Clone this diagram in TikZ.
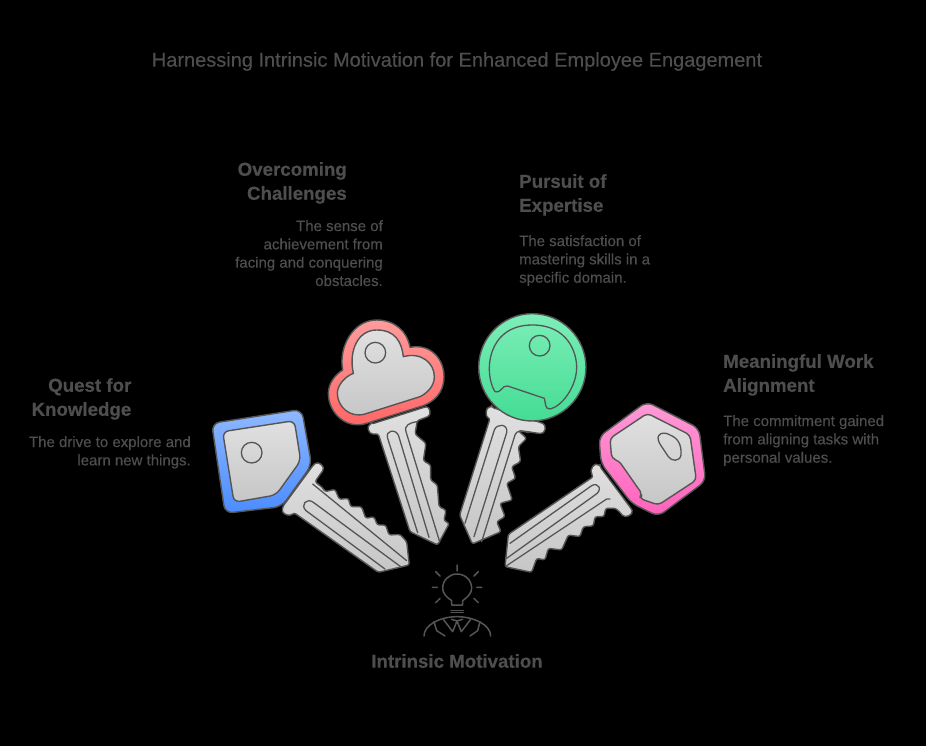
\documentclass[tikz,border=0pt]{standalone}
\usepackage{fontspec}
\setmainfont[FakeBold=0.35,BoldFeatures={FakeBold=0.5}]{Liberation Sans}
\definecolor{ink}{HTML}{4E4E4E}
\definecolor{outl}{HTML}{555555}
\definecolor{E1}{HTML}{E0E0E0}\definecolor{C7}{HTML}{C6C6C6}
\definecolor{HB1}{HTML}{8FB8FF}\definecolor{HB2}{HTML}{4A8CFF}
\definecolor{HR1}{HTML}{FF9C9C}\definecolor{HR2}{HTML}{FF6464}
\definecolor{HG1}{HTML}{7DEEB8}\definecolor{HG2}{HTML}{44DC94}
\definecolor{HP1}{HTML}{FF9AD6}\definecolor{HP2}{HTML}{FF62BC}
\tikzset{
  zoomed/.style={x=0.33333pt,y=-0.33333pt},
  steel/.style={draw=outl,line width=1.4pt,top color=E1,bottom color=C7,rounded corners=2.2pt,line join=round},
  groove/.style={draw=outl,line width=1.3pt,line cap=round,line join=round},
  bluehead/.style={draw=outl,line width=1.4pt,top color=HB1,bottom color=HB2,line join=round},
  redhead/.style={draw=outl,line width=1.4pt,top color=HR1,bottom color=HR2,line join=round},
  greenhead/.style={draw=outl,line width=1.4pt,top color=HG1,bottom color=HG2,line join=round},
  pinkhead/.style={draw=outl,line width=1.4pt,top color=HP1,bottom color=HP2,line join=round},
  face/.style={draw=outl,line width=1.4pt,top color=E1,bottom color=C7,line join=round},
  icon/.style={draw=outl,line width=1.5pt,line cap=round,line join=round},
  titletext/.style={text=ink,font=\fontsize{20}{24}\selectfont,inner sep=0pt},
  head/.style={text=ink,font=\bfseries\fontsize{18.7}{24}\selectfont,inner sep=0pt},
  body/.style={text=ink,font=\fontsize{15}{18.3}\selectfont,inner sep=0pt}
}
\begin{document}
\begin{tikzpicture}[x=1pt,y=-1pt]
\useasboundingbox (0,0) rectangle (926,746);
\fill[black] (0,0) rectangle (926,746);

\node[titletext] (title) at (457,61.5) {Harnessing Intrinsic Motivation for Enhanced Employee Engagement};

\node[head,align=right,anchor=north east] (h1) at (131.5,378) {Quest for\\Knowledge};
\node[body,align=right,anchor=north east] (b1) at (191,436) {The drive to explore and\\learn new things.};
\node[head,align=right,anchor=north east] (h2) at (347,162) {Overcoming\\Challenges};
\node[body,align=right,anchor=north east] (b2) at (383,220) {The sense of\\achievement from\\facing and conquering\\obstacles.};
\node[head,align=left,anchor=north west] (h3) at (519,174) {Pursuit of\\Expertise};
\node[body,align=left,anchor=north west] (b3) at (519,235) {The satisfaction of\\mastering skills in a\\specific domain.};
\node[head,align=left,anchor=north west] (h4) at (723,354) {Meaningful Work\\Alignment};
\node[body,align=left,anchor=north west] (b4) at (723,415) {The commitment gained\\from aligning tasks with\\personal values.};
\node[head] (centre) at (457,661) {Intrinsic Motivation};

% blue key
\begin{scope}[shift={(200,390)},zoomed]
\path[steel] (340,225) .. controls (355,212) and (378,230) .. (364,248) -- (345,275) -- (370,295) -- (375,305) -- (405,298) -- (418,328) -- (445,325) -- (452,350) -- (485,350) -- (497,385) -- (522,380) -- (532,405) -- (557,405) -- (567,435) -- (600,433) -- (620,455) -- (628,525) -- (535,547) -- (282,368) .. controls (272,378) and (245,378) .. (248,350) -- cycle;
\draw[groove] (338,282) -- (620,512);
\draw[groove] (555,537) -- (318,362) .. controls (300,345) and (320,322) .. (340,337) -- (602,530);
\path[bluehead,rounded corners=8pt] (35,100) -- (305,58) -- (335,225) -- (245,350) -- (75,370) -- cycle;
\path[face,rounded corners=6pt] (68,125) -- (283,92) -- (302,212) -- (228,315) -- (102,337) -- cycle;
\draw[groove] (155,188) circle[radius=31];
\end{scope}

% red key
\begin{scope}[shift={(320,310)},zoomed]
\path[steel] (155,342) -- (312,292) .. controls (330,288) and (335,315) .. (318,322) -- (292,332) -- (285,372) -- (318,400) -- (310,452) -- (332,465) -- (332,510) -- (352,525) -- (357,590) -- (378,600) -- (372,632) -- (388,640) -- (353,705) -- (270,665) -- (175,372) -- (165,372) .. controls (145,372) and (140,348) .. (155,342) -- cycle;
\draw[groove] (293,668) -- (203,385) .. controls (195,360) and (228,355) .. (236,378) -- (327,682);
\draw[groove] (358,692) -- (258,365) .. controls (252,345) and (270,338) .. (292,335);
\draw[redhead] (68,180) .. controls (55,110) and (100,30) .. (170,30) .. controls (225,30) and (262,65) .. (270,112) .. controls (330,100) and (372,145) .. (372,200) .. controls (372,250) and (340,275) .. (310,287) -- (140,340) .. controls (80,360) and (25,310) .. (25,250) .. controls (25,220) and (45,195) .. (68,180) -- cycle;
\draw[face] (100,190) .. controls (85,120) and (115,60) .. (170,60) .. controls (225,60) and (245,95) .. (250,140) .. controls (305,125) and (343,160) .. (343,200) .. controls (343,230) and (320,250) .. (300,260) -- (135,312) .. controls (90,325) and (52,290) .. (52,250) .. controls (52,225) and (75,200) .. (100,190) -- cycle;
\draw[groove] (166,128) circle[radius=31];
\end{scope}

% green key
\begin{scope}[shift={(455,310)},zoomed]
\path[steel] (110,292) -- (258,338) .. controls (275,345) and (272,372) .. (250,370) -- (218,365) -- (190,362) -- (215,385) -- (190,410) -- (197,455) -- (170,470) -- (182,505) -- (155,520) -- (172,570) -- (135,580) -- (150,620) -- (125,635) -- (138,665) -- (52,702) -- (14,615) -- (105,325) .. controls (90,320) and (92,290) .. (110,292) -- cycle;
\draw[groove] (30,640) -- (118,360) .. controls (125,340) and (160,340) .. (155,368) -- (57,680);
\draw[groove] (80,695) -- (180,375) .. controls (185,360) and (200,362) .. (222,368);
\draw[greenhead] (232,172) circle[radius=161];
\draw[groove] (120,245) .. controls (85,190) and (95,45) .. (232,45) .. controls (340,45) and (365,130) .. (365,172) .. controls (365,230) and (320,290) .. (285,297) .. controls (270,298) and (272,280) .. (268,265) -- (158,228) .. controls (140,225) and (140,250) .. (120,245) -- cycle;
\draw[groove] (254,107) circle[radius=31];
\end{scope}

% pink key
\begin{scope}[shift={(495,395)},zoomed]
\path[steel] (315,215) -- (408,340) .. controls (418,358) and (390,372) .. (378,355) -- (362,340) -- (332,340) -- (327,365) -- (300,365) -- (295,393) -- (265,395) -- (255,425) -- (220,420) -- (200,465) -- (160,460) -- (150,495) -- (125,490) -- (110,532) -- (30,515) -- (40,418) -- (295,245) .. controls (280,225) and (300,198) .. (315,215) -- cycle;
\draw[groove] (45,445) -- (290,272) .. controls (310,260) and (325,285) .. (300,300) -- (35,490);
\draw[groove] (35,512) -- (335,312) -- (345,312);
\path[pinkhead,rounded corners=7pt] (312,125) -- (455,20) -- (612,100) -- (632,258) -- (490,364) -- (410,325) -- (318,205) -- cycle;
\path[face,rounded corners=4pt] (345,130) -- (457,55) -- (585,120) -- (604,255) -- (490,330) -- (433,310) -- (442,298) -- (372,198) -- (350,190) -- cycle;
\draw[groove] (490,135) .. controls (485,115) and (505,108) .. (525,120) .. controls (550,130) and (560,150) .. (558,180) .. controls (555,200) and (530,200) .. (520,185) -- (498,152) .. controls (493,145) and (491,140) .. (490,135) -- cycle;
\end{scope}

% person with lamp
\begin{scope}[shift={(410,560)},zoomed]
\draw[icon] (125,135) -- (125,122) .. controls (110,112) and (98,100) .. (98,85) .. controls (98,60) and (118,42) .. (141,42) .. controls (165,42) and (185,60) .. (185,85) .. controls (185,100) and (172,112) .. (158,122) -- (158,135) -- cycle;
\draw[icon] (123,151) -- (160,151) (123,158) -- (160,158);
\draw[icon] (141,15) -- (141,33) (77,35) -- (90,48) (205,35) -- (192,48) (67,82) -- (82,82) (200,82) -- (215,82) (77,128) -- (90,115) (205,128) -- (192,115);
\draw[icon] (42,228) .. controls (42,195) and (90,170) .. (141,170) .. controls (192,170) and (242,195) .. (242,228);
\draw[icon] (100,178) -- (128,215) -- (141,183) -- (154,215) -- (182,178);
\draw[icon] (125,178) -- (141,183) -- (158,178);
\draw[icon] (72,185) -- (80,212) -- (105,228) (210,185) -- (203,212) -- (180,228);
\end{scope}
\end{tikzpicture}
\end{document}
